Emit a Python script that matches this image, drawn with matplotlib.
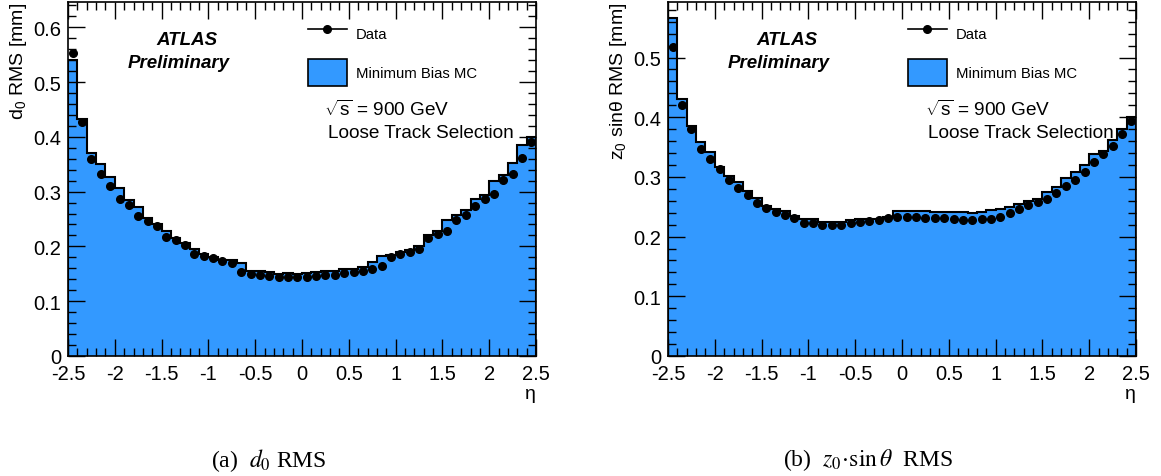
import numpy as np
import matplotlib
matplotlib.use("Agg")
from matplotlib import pyplot as plt
from matplotlib.lines import Line2D
from matplotlib.patches import Patch

plt.rcParams['font.family'] = ['Liberation Sans', 'DejaVu Sans']
plt.rcParams['mathtext.fontset'] = 'custom'
plt.rcParams['mathtext.rm'] = 'Liberation Sans'
plt.rcParams['mathtext.it'] = 'Liberation Sans:italic'

# eta binning: 50 bins of 0.1 from -2.5 to 2.5
edges = np.linspace(-2.5, 2.5, 51)

# d0 RMS [mm]
d0_mc = [0.540, 0.432, 0.371, 0.351, 0.326, 0.307, 0.284, 0.271, 0.251, 0.240,
         0.228, 0.215, 0.206, 0.195, 0.187, 0.181, 0.176, 0.175, 0.170, 0.156,
         0.155, 0.153, 0.150, 0.152, 0.150, 0.152, 0.153, 0.155, 0.155, 0.158,
         0.159, 0.162, 0.172, 0.183, 0.184, 0.190, 0.193, 0.200, 0.220, 0.228,
         0.248, 0.257, 0.266, 0.287, 0.293, 0.319, 0.330, 0.352, 0.385, 0.400]
d0_data = [0.553, 0.427, 0.360, 0.333, 0.310, 0.287, 0.276, 0.256, 0.247, 0.238,
           0.218, 0.211, 0.203, 0.186, 0.182, 0.178, 0.173, 0.169, 0.153, 0.150,
           0.148, 0.146, 0.145, 0.145, 0.144, 0.145, 0.146, 0.147, 0.148, 0.152,
           0.153, 0.156, 0.159, 0.164, 0.181, 0.186, 0.190, 0.196, 0.215, 0.222,
           0.229, 0.249, 0.257, 0.273, 0.286, 0.296, 0.322, 0.333, 0.362, 0.391]

# z0 sin(theta) RMS [mm]
z0_mc = [0.566, 0.430, 0.386, 0.359, 0.342, 0.316, 0.301, 0.292, 0.276, 0.265,
         0.252, 0.247, 0.243, 0.235, 0.230, 0.230, 0.225, 0.225, 0.225, 0.228,
         0.229, 0.230, 0.230, 0.233, 0.243, 0.243, 0.243, 0.243, 0.242, 0.242,
         0.242, 0.241, 0.239, 0.242, 0.244, 0.247, 0.249, 0.255, 0.259, 0.263,
         0.275, 0.283, 0.299, 0.308, 0.320, 0.338, 0.344, 0.361, 0.381, 0.400]
z0_data = [0.517, 0.421, 0.380, 0.346, 0.330, 0.313, 0.294, 0.281, 0.269, 0.256,
           0.248, 0.241, 0.236, 0.231, 0.222, 0.222, 0.220, 0.220, 0.220, 0.223,
           0.225, 0.226, 0.228, 0.231, 0.232, 0.232, 0.233, 0.231, 0.231, 0.231,
           0.229, 0.228, 0.228, 0.229, 0.230, 0.233, 0.240, 0.247, 0.253, 0.258,
           0.263, 0.273, 0.285, 0.294, 0.308, 0.325, 0.338, 0.352, 0.372, 0.393]

mc_color = '#3399ff'
centers = 0.5 * (edges[:-1] + edges[1:])


def panel(ax, mc, data, ymax, ylabel):
    ax.stairs(mc, edges, fill=True, color=mc_color, lw=0)
    ax.stairs(mc, edges, color='black', lw=1.5)
    ax.plot(centers, data, 'o', color='black', ms=5.5)
    ax.set_xlim(-2.5, 2.5)
    ax.set_ylim(0, ymax)
    ax.set_xticks(np.arange(-2.5, 2.51, 0.5))
    ax.set_xticklabels(['-2.5', '-2', '-1.5', '-1', '-0.5', '0', '0.5', '1', '1.5', '2', '2.5'])
    ax.set_xticks(np.arange(-2.5, 2.51, 0.1), minor=True)
    ax.set_yticks(np.arange(0, ymax, 0.1))
    ax.set_yticklabels(['0'] + ['%.1f' % v for v in np.arange(0.1, ymax, 0.1)])
    ax.set_yticks(np.arange(0, ymax, 0.02), minor=True)
    ax.tick_params(which='both', direction='in', top=True, right=True,
                   labelsize=14.5, width=1)
    ax.tick_params(which='major', length=12, pad=5)
    ax.tick_params(axis='x', which='major', pad=6)
    ax.tick_params(which='minor', length=6)
    for s in ax.spines.values():
        s.set_linewidth(1.2)
    ax.set_xlabel('η', loc='right', fontsize=14, labelpad=1)
    ax.set_ylabel(ylabel, loc='top', fontsize=14, labelpad=3)
    ax.text(0.255, 0.893, 'ATLAS', transform=ax.transAxes, ha='center', va='center',
            fontsize=13.5, fontweight='bold', fontstyle='italic')
    ax.text(0.237, 0.828, 'Preliminary', transform=ax.transAxes, ha='center', va='center',
            fontsize=13.5, fontweight='bold', fontstyle='italic')
    handles = [Line2D([0], [0], color='black', marker='o', ms=5.5, lw=1.2),
               Patch(facecolor=mc_color, edgecolor='black', lw=1.2)]
    ax.legend(handles, ['Data', 'Minimum Bias MC'], loc='upper left',
              bbox_to_anchor=(0.513, 0.95), frameon=False, fontsize=10.7,
              handlelength=2.6, handleheight=2.5, handletextpad=0.6,
              labelspacing=0.75, borderpad=0, borderaxespad=0)
    ax.text(0.548, 0.698, r'$\sqrt{\mathrm{s}}$ = 900 GeV', transform=ax.transAxes,
            ha='left', va='center', fontsize=13.7)
    ax.text(0.556, 0.632, 'Loose Track Selection', transform=ax.transAxes, ha='left',
            va='center', fontsize=13.7)


fig = plt.figure(figsize=(11.61, 4.77), dpi=100)
ax1 = fig.add_axes([0.0586, 0.2516, 0.4031, 0.7421])
ax2 = fig.add_axes([0.5754, 0.2516, 0.4031, 0.7421])

panel(ax1, d0_mc, d0_data, 0.646, 'd$_0$ RMS [mm]')
panel(ax2, z0_mc, z0_data, 0.593, 'z$_0$ sinθ RMS [mm]')

fig.text(0.2317, 0.035, r'(a)  $d_0$ RMS', ha='center', va='center', fontsize=17,
         family='Liberation Serif', math_fontfamily='stix')
fig.text(0.7476, 0.035, r'(b)  $z_0\!\cdot\!\sin\theta$  RMS', ha='center', va='center',
         fontsize=17, family='Liberation Serif', math_fontfamily='stix')

fig.savefig('out.png', dpi=100)
